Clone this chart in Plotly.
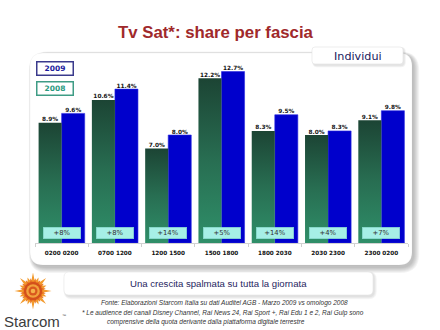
import math
import plotly.graph_objects as go

# ---- data ----
categories = ["0200 0200", "0700 1200", "1200 1500", "1500 1800",
              "1800 2030", "2030 2300", "2300 0200"]
share_2008 = [8.9, 10.6, 7.0, 12.2, 8.3, 8.0, 9.1]
share_2009 = [9.6, 11.4, 8.0, 12.7, 9.5, 8.3, 9.8]
growth_labels = ["+8%", "+8%", "+14%", "+5%", "+14%", "+4%", "+7%"]

# ---- page geometry (pixels) ----
W, H = 440, 330
ML, MR, MT, MB = 35, 32, 53, 87
PW, PH = W - ML - MR, H - MT - MB
PX_PER_PCT = 13.5
Y_TOP = PH / PX_PER_PCT

BAR_GAP = 0.135
HALF = (1 - BAR_GAP) / 2


def X(px):
    return (px - ML) / PW


def Y(py):
    return (H - MB - py) / PH


def rounded(x0, y0, x1, y1, r):
    pts = [("M", x0 + r, y0), ("L", x1 - r, y0), ("Q", x1, y0, x1, y0 + r),
           ("L", x1, y1 - r), ("Q", x1, y1, x1 - r, y1), ("L", x0 + r, y1),
           ("Q", x0, y1, x0, y1 - r), ("L", x0, y0 + r), ("Q", x0, y0, x0 + r, y0)]
    out = []
    for p in pts:
        cmd, coords = p[0], p[1:]
        xy = []
        for i in range(0, len(coords), 2):
            xy.append(f"{X(coords[i]):.5f},{Y(coords[i + 1]):.5f}")
        out.append(cmd + " " + " ".join(xy))
    return " ".join(out) + " Z"


def boxed(x0, y0, x1, y1, r, fill, line, shadow=True, spread=4, alpha=0.05, dx=1.5, dy=2.5):
    shapes = []
    if shadow:
        for k in range(spread, 0, -1):
            shapes.append(dict(type="path", xref="paper", yref="paper", layer="below",
                               path=rounded(x0 - k * 0.6 + dx, y0 - k * 0.5 + dy * 0.4,
                                            x1 + k + dx * 0.5, y1 + k + dy * 0.5, r + k),
                               fillcolor=f"rgba(0,0,0,{alpha})", line=dict(width=0)))
    shapes.append(dict(type="path", xref="paper", yref="paper", layer="below",
                       path=rounded(x0, y0, x1, y1, r), fillcolor=fill,
                       line=dict(color=line, width=0.6)))
    return shapes


def star_path(cx, cy, n, r_long, r_short, r_in, rot=0.0):
    pts = []
    for k in range(2 * n):
        a = rot + math.pi * k / n
        if k % 2 == 0:
            r = r_long if (k // 2) % 2 == 0 else r_short
        else:
            r = r_in
        pts.append((cx + r * math.sin(a), cy - r * math.cos(a)))
    return "M " + " L ".join(f"{X(x):.5f},{Y(y):.5f}" for x, y in pts) + " Z"


def disc(cx, cy, r, color):
    return dict(type="circle", xref="paper", yref="paper",
                x0=X(cx - r), x1=X(cx + r), y0=Y(cy + r), y1=Y(cy - r),
                fillcolor=color, line=dict(width=0))


fig = go.Figure()

# 2008 bars: vertical gradient fills, light green at the base to dark green at the top
for i, v in enumerate(share_2008):
    fig.add_trace(go.Scatter(
        x=[i - HALF, i, i, i - HALF, i - HALF], y=[0, 0, v, v, 0],
        mode="lines", line=dict(width=0), fill="toself",
        fillgradient=dict(type="vertical",
                          colorscale=[[0, "#2f8f69"], [0.5, "#286e52"], [1, "#1c4434"]]),
        showlegend=False, hoverinfo="skip"))

# 2009 bars
fig.add_trace(go.Bar(
    x=list(range(len(categories))), y=share_2009, width=HALF, offset=0,
    marker=dict(color="#0000cc", line=dict(color="#2a2ae0", width=0.6)),
    showlegend=False, hoverinfo="skip"))

# value labels above the bars
label_font = dict(family="DejaVu Sans", size=5.8, color="#151515")
fig.add_trace(go.Scatter(
    x=[i - HALF / 2 for i in range(len(categories))], y=share_2008,
    mode="text", text=[f"<b>{v:.1f}%</b>" for v in share_2008],
    textposition="top center", textfont=label_font, showlegend=False, hoverinfo="skip"))
fig.add_trace(go.Scatter(
    x=[i + HALF / 2 for i in range(len(categories))], y=share_2009,
    mode="text", text=[f"<b>{v:.1f}%</b>" for v in share_2009],
    textposition="top center", textfont=label_font, showlegend=False, hoverinfo="skip"))

# ---- decorative boxes ----
shapes = []
shapes += boxed(30, 53, 412, 265, 13, "white", "rgba(0,0,0,0.06)", spread=6, alpha=0.045,
                dx=2.5, dy=4)
shapes += boxed(312, 47, 403, 64, 3, "white", "#e2e2e2", spread=2, alpha=0.05)
shapes += boxed(64, 272, 373, 295, 5, "white", "#e6e6e6", spread=3, alpha=0.04)

# Starcom sun logo
sun_x, sun_y = 33, 291
shapes.append(dict(type="path", xref="paper", yref="paper",
                   path=star_path(sun_x, sun_y, 16, 18.5, 14.5, 9.5),
                   fillcolor="#f39a2c", line=dict(width=0)))
shapes.append(dict(type="path", xref="paper", yref="paper",
                   path=star_path(sun_x, sun_y, 16, 13, 13, 8.5, rot=math.pi / 16),
                   fillcolor="#e8741f", line=dict(width=0)))
shapes.append(disc(sun_x, sun_y, 9.2, "#d4501b"))
shapes.append(disc(sun_x, sun_y, 6.8, "#f2a23c"))
shapes.append(disc(sun_x, sun_y, 4.5, "#d9581e"))
shapes.append(disc(sun_x, sun_y, 2.3, "#f5b24a"))

annotations = []
# legend boxes
for txt, y0, y1, border, color in [("2009", 61, 75, "#3a3a8c", "#1c1c9c"),
                                   ("2008", 81, 96, "#3f9c85", "#2a9a80")]:
    annotations.append(dict(
        xref="paper", yref="paper", x=X((36 + 74) / 2), y=Y((y0 + y1) / 2),
        text=f"<b>{txt}</b>", showarrow=False, xanchor="center", yanchor="middle",
        width=35, height=12, borderpad=0, bordercolor=border, borderwidth=1.5,
        bgcolor="white", font=dict(family="DejaVu Sans", size=7.5, color=color)))

# growth boxes inside the bars
for i, g in enumerate(growth_labels):
    annotations.append(dict(
        xref="x", yref="paper", x=i, y=Y(233), text=g, showarrow=False,
        xanchor="center", yanchor="middle", width=37, height=11, borderpad=0,
        bgcolor="#a6efe6", bordercolor="#86dcd0", borderwidth=0.5,
        font=dict(family="DejaVu Sans", size=6.8, color="#333333")))

texts = [
    ("Tv Sat*: share per fascia", 215.5, 32, dict(family="Liberation Sans", size=16.8,
                                                color="#a0292b"), True),
    ("Individui", 357.5, 56, dict(family="DejaVu Sans", size=11.2, color="#20205e"), False),
    ("Una crescita spalmata su tutta la giornata", 218.5, 283.5,
     dict(family="Liberation Sans", size=9.6, color="#1f1f5f"), False),
    ("<i>Fonte: Elaborazioni Starcom Italia su dati Auditel AGB - Marzo 2009 vs omologo 2008</i>",
     224, 303, dict(family="Liberation Sans", size=6.5, color="#333333"), False),
    ("<i>* Le audience dei canali Disney Channel, Rai News 24, Rai Sport +, Rai Edu 1 e 2, Rai Gulp sono</i>",
     223, 313, dict(family="Liberation Sans", size=6.5, color="#333333"), False),
    ("<i>comprensive della quota derivante dalla piattaforma digitale terrestre</i>",
     206, 322, dict(family="Liberation Sans", size=6.5, color="#333333"), False),
    ("Starcom", 32, 321, dict(family="Liberation Sans", size=15, color="#3c3c3c"), False),
    ("™", 63.5, 315, dict(family="Liberation Sans", size=4, color="#3c3c3c"), False),
]
for txt, px, py, font, bold in texts:
    annotations.append(dict(
        xref="paper", yref="paper", x=X(px), y=Y(py),
        text=f"<b>{txt}</b>" if bold else txt, showarrow=False,
        xanchor="center", yanchor="middle", font=font))

fig.update_layout(
    width=W, height=H, margin=dict(l=ML, r=MR, t=MT, b=MB),
    paper_bgcolor="white", plot_bgcolor="rgba(0,0,0,0)",
    shapes=shapes, annotations=annotations,
    xaxis=dict(range=[-0.5, 6.5], tickmode="array", tickvals=list(range(len(categories))),
               ticktext=[f"<b>{c}</b>" for c in categories],
               tickfont=dict(family="DejaVu Sans", size=5.7, color="#111111"),
               ticks="", ticklabelstandoff=4, showgrid=False, zeroline=False,
               showline=True, linecolor="#d2d2d2", linewidth=1, fixedrange=True,
               minor=dict(tickmode="linear", tick0=-0.5, dtick=1, ticks="outside",
                          ticklen=3, tickcolor="#cfcfcf", tickwidth=1, showgrid=False)),
    yaxis=dict(range=[0, Y_TOP], visible=False, fixedrange=True),
)

fig.write_html("out.html")
